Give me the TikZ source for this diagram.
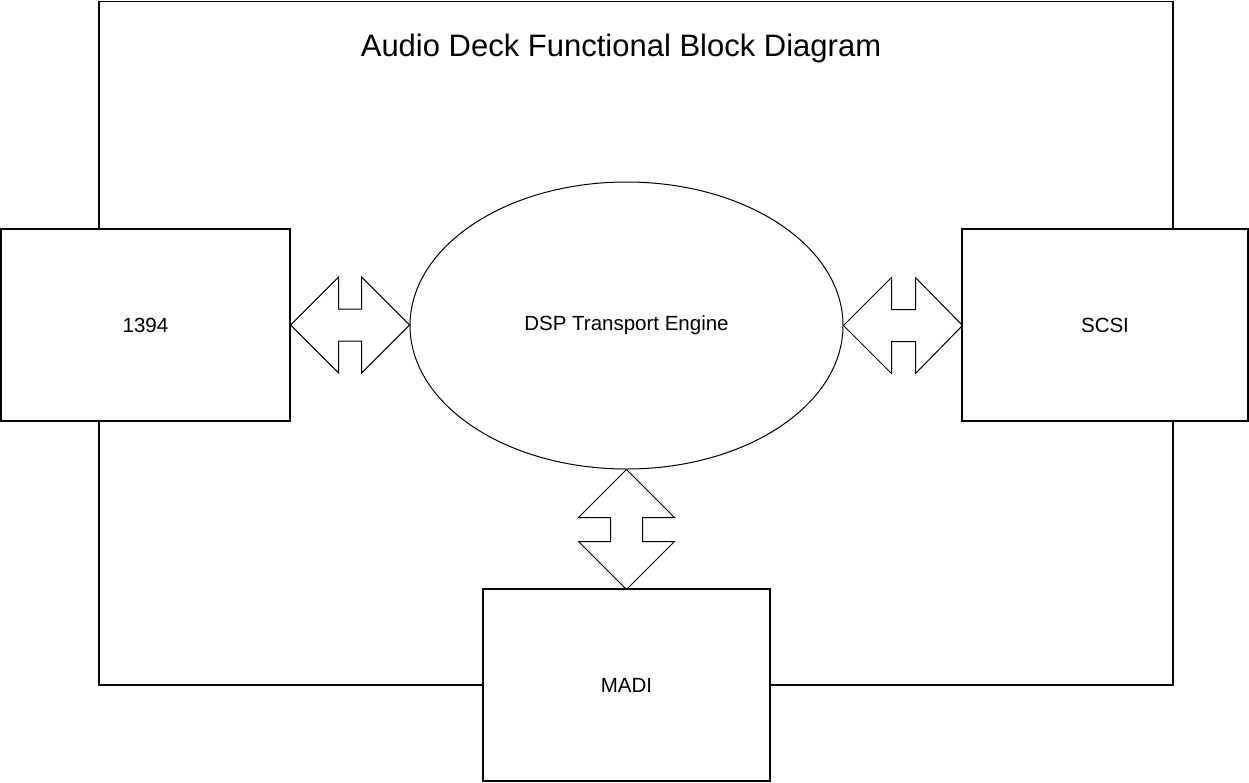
\documentclass[tikz,border=0pt]{standalone}
\usepackage{fontspec}
\setmainfont{Liberation Sans}
\usetikzlibrary{shapes.geometric}

\tikzset{
  block/.style={draw,line width=1.2pt,inner sep=0pt,minimum width=288pt,minimum height=192pt,
    font=\fontsize{20.5}{24}\selectfont},
  engine/.style={draw,ellipse,line width=1pt,inner sep=0pt,minimum width=433pt,minimum height=287pt,
    font=\fontsize{20.5}{24}\selectfont},
  bus/.style={draw,line width=1pt,line join=miter},
  frame/.style={draw,line width=1.2pt},
}

\begin{document}
\begin{tikzpicture}[x=1pt,y=-1pt]
  \useasboundingbox (0,0) rectangle (1249,782);

  \node [anchor=base,font=\fontsize{31}{36}\selectfont] (title) at (621,56) {Audio Deck Functional Block Diagram};

  \node [block,minimum width=289pt] (fw) at (145.5,325) {1394};
  \node [block,minimum width=286pt] (scsi) at (1105,325) {SCSI};
  \node [block,minimum width=287pt] (madi) at (626.5,685) {MADI};
  \node [engine] (dsp) at (626.5,325.5) {DSP Transport Engine};

  %% outer frame
  \coordinate (ctl) at (99,1.5);
  \coordinate (ctr) at (1173,1.5);
  \coordinate (cbl) at (99,685);
  \coordinate (cbr) at (1173,685);
  \draw [frame] (ctl |- fw.north) -- (ctl) -- (ctr) -- (ctr |- scsi.north);
  \draw [frame] (cbl |- fw.south) -- (cbl) -- (madi.west);
  \draw [frame] (madi.east) -- (cbr) -- (cbr |- scsi.south);

  %% double arrows
  \draw [bus] (fw.east) -- ++(48,-48) -- ++(0,32) -- ++(23,0) -- ++(0,-32) -- ++(48,48)
    -- ++(-48,48) -- ++(0,-32) -- ++(-23,0) -- ++(0,32) -- cycle;
  \draw [bus] (dsp.east) -- ++(48,-48) -- ++(0,32) -- ++(24,0) -- ++(0,-32) -- ++(47,48)
    -- ++(-47,48) -- ++(0,-32) -- ++(-24,0) -- ++(0,32) -- cycle;
  \draw [bus] (dsp.south) -- ++(-48,48) -- ++(32,0) -- ++(0,24) -- ++(-32,0) -- ++(48,48)
    -- ++(48,-48) -- ++(-32,0) -- ++(0,-24) -- ++(32,0) -- cycle;

\end{tikzpicture}
\end{document}
